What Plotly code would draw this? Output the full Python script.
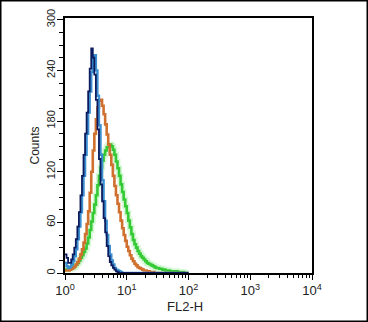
import plotly.graph_objects as go

# log10 of channel bin positions (FL2-H), 0.025 decade bins
log_bins = [0.000, 0.025, 0.050, 0.075, 0.100, 0.125, 0.150, 0.175, 0.200, 0.225,
            0.250, 0.275, 0.300, 0.325, 0.350, 0.375, 0.400, 0.425, 0.450, 0.475,
            0.500, 0.525, 0.550, 0.575, 0.600, 0.625, 0.650, 0.675, 0.700, 0.725,
            0.750, 0.775, 0.800, 0.825, 0.850, 0.875, 0.900, 0.925, 0.950, 0.975,
            1.000, 1.025, 1.050, 1.075, 1.100, 1.125, 1.150, 1.175, 1.200, 1.225,
            1.250, 1.275, 1.300, 1.325, 1.350, 1.375, 1.400, 1.425, 1.450, 1.475,
            1.500, 1.525, 1.550, 1.575, 1.600, 1.625, 1.650, 1.675, 1.700, 1.725,
            1.750, 1.775, 1.800, 1.825, 1.850, 1.875, 1.900, 1.925, 1.950, 1.975,
            2.000]

navy = [22, 18, 12, 12, 16, 22, 30, 40, 55, 72,
        92, 115, 140, 165, 190, 215, 242, 266, 255, 235,
        205, 170, 135, 105, 85, 65, 48, 32, 20, 13,
        9, 6, 4, 2, 1, 0, 0, 0, 0, 0,
        0, 0, 0, 0, 0, 0, 0, 0, 0, 0,
        0, 0, 0, 0, 0, 0, 0, 0, 0, 0,
        0, 0, 0, 0, 0, 0, 0, 0, 0, 0,
        0, 0, 0, 0, 0, 0, 0, 0, 0, 0,
        0]
lightblue = [12, 8, 6, 7, 10, 14, 20, 28, 40, 55,
             72, 92, 115, 140, 165, 190, 215, 238, 255, 258,
             240, 210, 175, 140, 110, 85, 62, 45, 32, 22,
             15, 10, 6, 4, 3, 2, 1, 0, 0, 0,
             0, 0, 0, 0, 0, 0, 0, 0, 0, 0,
             0, 0, 0, 0, 0, 0, 0, 0, 0, 0,
             0, 0, 0, 0, 0, 0, 0, 0, 0, 0,
             0, 0, 0, 0, 0, 0, 0, 0, 0, 0,
             0]
orange = [3, 3, 3, 4, 5, 6, 8, 10, 13, 17,
          22, 28, 36, 46, 58, 73, 95, 120, 145, 165,
          182, 196, 204, 205, 198, 188, 176, 164, 152, 140,
          128, 115, 103, 92, 82, 72, 62, 53, 45, 38,
          31, 26, 21, 17, 14, 11, 9, 7, 6, 5,
          4, 3, 3, 2, 2, 1, 1, 1, 0, 0,
          0, 0, 0, 0, 0, 0, 0, 0, 0, 0,
          0, 0, 0, 0, 0, 0, 0, 0, 0, 0,
          0]
green = [4, 4, 5, 5, 6, 7, 8, 10, 12, 15,
         18, 21, 25, 29, 35, 42, 51, 61, 71, 81,
         92, 104, 115, 125, 133, 140, 145, 149, 151, 152,
         150, 146, 140, 132, 124, 115, 105, 96, 87, 79,
         71, 62, 54, 46, 39, 34, 30, 26, 23, 20,
         18, 16, 14, 12, 11, 10, 9, 8, 7, 6,
         6, 5, 5, 4, 4, 3, 3, 3, 2, 2,
         2, 2, 2, 1, 1, 1, 1, 0, 0, 0,
         0]

x_tick_vals = [1, 10, 100, 1000, 10000]
x_tick_text = ["10<sup>0</sup>", "10<sup>1</sup>", "10<sup>2</sup>",
               "10<sup>3</sup>", "10<sup>4</sup>"]
y_tick_vals = [0, 60, 120, 180, 240, 300]
x_title = "FL2-H"
y_title = "Counts"

xs = [10 ** b for b in log_bins]

fig = go.Figure()
fig.add_trace(go.Scatter(x=xs, y=green, mode="lines", line_shape="hv",
                         line=dict(color="rgba(140,235,140,0.35)", width=6),
                         hoverinfo="skip", showlegend=False))
fig.add_trace(go.Scatter(x=xs, y=green, mode="lines", line_shape="hv",
                         line=dict(color="#35c935", width=2.6), showlegend=False))
fig.add_trace(go.Scatter(x=xs, y=orange, mode="lines", line_shape="hv",
                         line=dict(color="#d0702f", width=2.6), showlegend=False))
fig.add_trace(go.Scatter(x=xs, y=lightblue, mode="lines", line_shape="hv",
                         line=dict(color="#3b8fd1", width=2.4), showlegend=False))
fig.add_trace(go.Scatter(x=xs, y=navy, mode="lines", line_shape="hv",
                         line=dict(color="#0b1b5e", width=1.8), showlegend=False))

minor_x = []
for d in [1, 10, 100, 1000]:
    for k in range(2, 10):
        minor_x.append(d * k)

fig.update_layout(
    width=368, height=322,
    margin=dict(l=65, r=56, t=18, b=49, autoexpand=False),
    paper_bgcolor="white", plot_bgcolor="white",
    font=dict(family="Liberation Sans, Arial, sans-serif", color="#222", size=12),
    xaxis=dict(type="log", range=[0, 4], showline=True, linecolor="black",
               linewidth=1.5, mirror=True, showgrid=False, zeroline=False,
               automargin=False,
               tickmode="array", tickvals=x_tick_vals, ticktext=x_tick_text,
               ticks="outside", ticklen=5, tickwidth=1, tickcolor="black",
               tickfont=dict(size=13),
               minor=dict(tickmode="array", tickvals=minor_x, ticks="outside",
                          ticklen=3, tickcolor="black", tickwidth=1)),
    yaxis=dict(range=[0, 302], showline=True, linecolor="black",
               linewidth=1.5, mirror=True, showgrid=False, zeroline=False,
               automargin=False,
               tickmode="array", tickvals=y_tick_vals, tickangle=-90,
               ticks="outside", ticklen=6, tickwidth=1, tickcolor="black",
               tickfont=dict(size=11), ticklabelstandoff=-2,
               minor=dict(dtick=15, ticks="outside", ticklen=4,
                          tickcolor="black", tickwidth=1)),
    annotations=[
        dict(text=x_title, xref="paper", yref="paper", x=0.486, y=-0.133,
             showarrow=False, font=dict(size=13), xanchor="center", yanchor="middle"),
        dict(text=y_title, xref="paper", yref="paper", x=-0.1215, y=0.50,
             showarrow=False, font=dict(size=12), textangle=-90,
             xanchor="center", yanchor="middle"),
    ],
    shapes=[dict(type="rect", xref="paper", yref="paper",
                 x0=-0.2601, x1=1.2237, y0=-0.1892, y1=1.0676,
                 line=dict(color="black", width=1.5))],
)

fig.write_html(
    "out.html",
    config={"displayModeBar": False},
    post_script="document.body.style.margin='0';document.body.style.overflow='hidden';",
)
